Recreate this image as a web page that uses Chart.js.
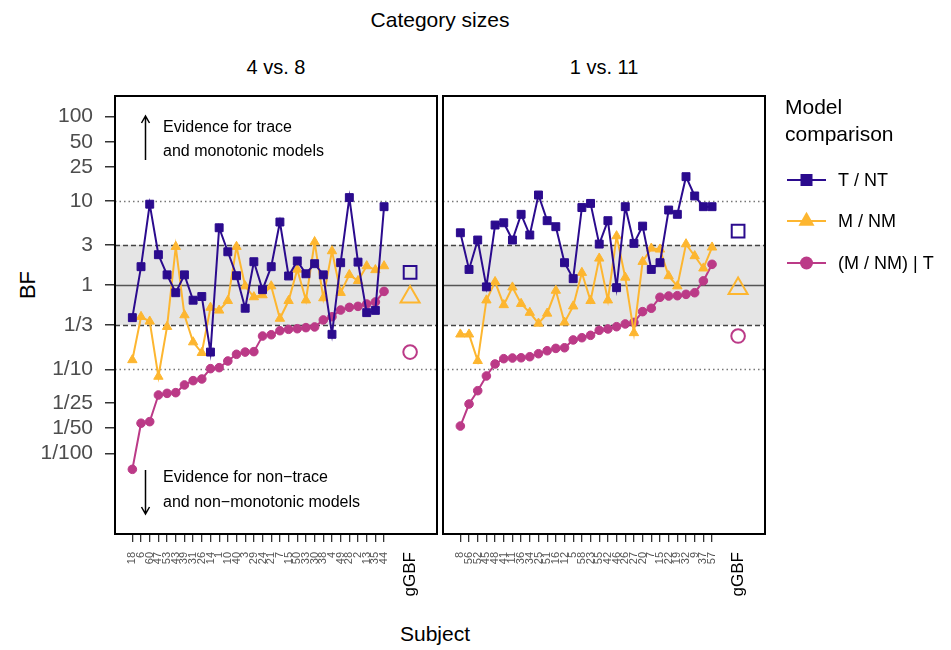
<!DOCTYPE html>
<html>
<head>
<meta charset="utf-8">
<script src="https://cdn.jsdelivr.net/npm/chart.js@4/dist/chart.umd.min.js"></script>
<style>
  body { margin: 0; background: #fff; width: 951px; height: 650px; position: relative; overflow: hidden;
         font-family: "Liberation Sans", Arial, Helvetica, sans-serif; }
  canvas { position: absolute; top: 0; }
  #cL { left: 0; }
  #cR { left: 430px; }
  .t { position: absolute; color: #000; white-space: nowrap; transform: translate(-50%, -50%); }
</style>
</head>
<body>
<div class="t" style="left:440px;top:20px;font-size:21px">Category sizes</div>
<div class="t" style="left:276px;top:67px;font-size:20px">4 vs. 8</div>
<div class="t" style="left:604px;top:67px;font-size:20px">1 vs. 11</div>
<div class="t" style="left:28px;top:285px;font-size:22px;transform:translate(-50%,-50%) rotate(-90deg)">BF</div>
<div class="t" style="left:435px;top:634px;font-size:21px">Subject</div>
<canvas id="cL" width="450" height="650"></canvas>
<canvas id="cR" width="521" height="650"></canvas>
<script>
// ---- data -------------------------------------------------------------
const seriesNames = ['T / NT', 'M / NM', '(M / NM) | T'];
const seriesColors = ['#2b0b8e', '#fdb630', '#bb3a87'];

// panel "4 vs. 8"
const leftSubjects = ['18','6','60','47','53','43','39','31','26','14','1','10','40','3','29',
                      '24','21','7','15','50','33','30','38','4','49','28','2','13','35','44'];
const leftTNT  = [0.41,1.65,9.1,2.29,1.32,0.81,1.32,0.66,0.73,0.16,4.78,2.48,1.29,0.53,1.89,
                  0.88,1.65,5.59,1.28,1.93,1.36,1.79,1.32,0.26,1.84,10.9,1.87,0.47,0.50,8.5];
const leftMNM  = [0.129,0.42,0.37,0.082,0.32,2.85,0.44,0.21,0.157,0.54,0.50,0.65,2.85,0.97,0.72,
                  0.76,0.97,0.40,0.65,1.53,0.66,3.24,0.70,2.53,0.81,1.32,1.12,1.68,1.51,1.68];
const leftCond = [0.0065,0.0229,0.0239,0.0495,0.0518,0.0528,0.0652,0.0733,0.0767,0.1017,0.1045,0.1254,0.1506,0.160,0.162,
                  0.248,0.257,0.287,0.298,0.303,0.312,0.318,0.385,0.42,0.505,0.543,0.558,0.595,0.629,0.84];
const leftGroup = [1.41, 0.72, 0.16];   // T/NT, M/NM, (M/NM)|T

// panel "1 vs. 11"
const rightSubjects = ['8','56','52','45','48','41','11','36','34','25','51','16','12','5','58',
                       '23','55','42','46','26','27','20','7','15','22','19','32','9','37','57'];
const rightTNT  = [4.17,1.53,3.42,0.95,5.15,5.48,3.42,6.9,3.92,11.7,5.8,4.92,1.84,1.19,8.3,
                   9.3,3.06,5.8,0.93,8.5,3.12,5.0,1.53,1.84,7.76,6.9,19.3,11.4,8.5,8.5];
const rightMNM  = [0.26,0.26,0.126,0.66,1.09,0.58,0.94,0.60,0.47,0.35,0.46,0.86,0.36,0.56,1.40,
                   0.65,2.07,0.66,3.81,1.23,0.27,1.89,2.72,2.65,1.28,0.97,3.06,2.21,1.58,2.8];
const rightCond = [0.0212,0.0387,0.0557,0.0833,0.1156,0.1336,0.136,0.137,0.141,0.153,0.166,0.177,0.180,0.223,0.237,
                   0.253,0.290,0.301,0.32,0.345,0.36,0.483,0.53,0.715,0.74,0.747,0.775,0.81,1.12,1.76];
const rightGroup = [4.37, 0.91, 0.248];

// axis ticks
const yTickValues = [100, 50, 25, 10, 3, 1, 1/3, 1/10, 1/25, 1/50, 1/100];
const yTickLabels = ['100','50','25','10','3','1','1/3','1/10','1/25','1/50','1/100'];
const groupLabel = 'gGBF';
const groupPos = 32;

// reference levels
const bandLow = 1/3, bandHigh = 3, neutral = 1;
const dottedLevels = [10, 1/10];

// ---- drawing -----------------------------------------------------------
const FONT = '"Liberation Sans", Arial, Helvetica, sans-serif';
Chart.defaults.font.family = FONT;
const Y_MIN = 0.00111, Y_MAX = 175;
const X_MIN = -2, X_MAX = 35.1;
const RIGHT_CANVAS_LEFT = 430;

const guides = {
  id: 'guides',
  beforeDatasetsDraw(chart) {
    const { ctx, chartArea: a, scales: { y } } = chart;
    ctx.save();
    const yHi = y.getPixelForValue(bandHigh), yLo = y.getPixelForValue(bandLow);
    ctx.fillStyle = '#e5e5e5';
    ctx.fillRect(a.left, yHi, a.right - a.left, yLo - yHi);
    const hline = (v, dash, color, w) => {
      const py = Math.round(y.getPixelForValue(v)) + 0.5;
      ctx.beginPath();
      ctx.setLineDash(dash);
      ctx.strokeStyle = color;
      ctx.lineWidth = w;
      ctx.moveTo(a.left, py);
      ctx.lineTo(a.right, py);
      ctx.stroke();
    };
    dottedLevels.forEach(v => hline(v, [1.5, 3], '#777', 1.5));
    hline(bandHigh, [5, 3], '#444', 1.5);
    hline(bandLow, [5, 3], '#444', 1.5);
    hline(neutral, [], '#555', 1.5);
    ctx.restore();
  },
  afterDraw(chart) {
    const { ctx, chartArea: a } = chart;
    ctx.save();
    ctx.strokeStyle = '#000';
    ctx.lineWidth = 2;
    ctx.strokeRect(a.left, a.top, a.right - a.left, a.bottom - a.top);
    ctx.restore();
  }
};

const evidenceNotes = {
  id: 'evidenceNotes',
  afterDatasetsDraw(chart) {
    const { ctx } = chart;
    ctx.save();
    ctx.strokeStyle = '#000';
    ctx.fillStyle = '#000';
    ctx.lineWidth = 1.5;
    const arrow = (x, y0, y1) => {
      const dir = y1 < y0 ? 1 : -1;
      ctx.beginPath();
      ctx.moveTo(x, y0); ctx.lineTo(x, y1);
      ctx.moveTo(x - 4, y1 + dir * 7); ctx.lineTo(x, y1); ctx.lineTo(x + 4, y1 + dir * 7);
      ctx.stroke();
    };
    arrow(145.5, 160, 116);
    arrow(145.5, 470, 514);
    ctx.font = '16px ' + FONT;
    ctx.textBaseline = 'middle';
    ctx.textAlign = 'left';
    ctx.fillText('Evidence for trace', 163, 128);
    ctx.fillText('and monotonic models', 163, 152);
    ctx.fillText('Evidence for non\u2212trace', 163, 478);
    ctx.fillText('and non\u2212monotonic models', 163, 503);
    ctx.restore();
  }
};

function drawMarker(ctx, style, x, y, r, color, filled) {
  ctx.beginPath();
  if (style === 'rect') {
    ctx.rect(x - r, y - r, 2 * r, 2 * r);
  } else if (style === 'triangle') {
    ctx.moveTo(x, y - r * 1.15);
    ctx.lineTo(x + r, y + r * 0.6);
    ctx.lineTo(x - r, y + r * 0.6);
    ctx.closePath();
  } else {
    ctx.arc(x, y, r, 0, Math.PI * 2);
  }
  if (filled) { ctx.fillStyle = color; ctx.fill(); }
  else { ctx.strokeStyle = color; ctx.lineWidth = 2; ctx.stroke(); }
}

const legendBlock = {
  id: 'legendBlock',
  afterDraw(chart) {
    const { ctx } = chart;
    const ox = -RIGHT_CANVAS_LEFT;
    ctx.save();
    ctx.fillStyle = '#000';
    ctx.font = '21px ' + FONT;
    ctx.textBaseline = 'middle';
    ctx.textAlign = 'left';
    ctx.fillText('Model', 785 + ox, 108);
    ctx.fillText('comparison', 785 + ox, 135);
    const rows = [180, 221, 263];
    const styles = ['rect', 'triangle', 'circle'];
    const sizes = [6, 8, 6.5];
    rows.forEach((yy, i) => {
      ctx.strokeStyle = seriesColors[i];
      ctx.lineWidth = 2;
      ctx.beginPath();
      ctx.moveTo(787 + ox, yy); ctx.lineTo(826 + ox, yy);
      ctx.stroke();
      drawMarker(ctx, styles[i], 806.5 + ox, yy, sizes[i], seriesColors[i], true);
      ctx.fillStyle = '#000';
      ctx.font = '18px ' + FONT;
      ctx.fillText(seriesNames[i], 838 + ox, yy + 1);
    });
    ctx.restore();
  }
};

function panel(canvasId, subjects, tnt, mnm, cond, group, withY, padding, extraPlugins) {
  const pts = arr => arr.map((v, i) => ({ x: i, y: v }));
  const xTicks = subjects.map((s, i) => i).concat([groupPos]);
  const line = (label, data, color, style, r) => ({
    label, data: pts(data), borderColor: color, backgroundColor: color,
    borderWidth: 2, pointStyle: style, pointRadius: r, pointBorderWidth: 1,
    pointBackgroundColor: color, pointBorderColor: color, tension: 0
  });
  const open = (label, v, color, style, r) => ({
    label, data: [{ x: groupPos, y: v }], showLine: false, borderColor: color,
    backgroundColor: 'rgba(0,0,0,0)', pointStyle: style, pointRadius: r, pointBorderWidth: 2,
    pointBackgroundColor: 'rgba(0,0,0,0)', pointBorderColor: color
  });
  return new Chart(document.getElementById(canvasId), {
    type: 'line',
    data: {
      datasets: [
        line(seriesNames[0], tnt, seriesColors[0], 'rect', 5.6),
        line(seriesNames[1], mnm, seriesColors[1], 'triangle', 5.4),
        line(seriesNames[2], cond, seriesColors[2], 'circle', 4.3),
        open(seriesNames[0] + ' ' + groupLabel, group[0], seriesColors[0], 'rect', 9),
        open(seriesNames[1] + ' ' + groupLabel, group[1], seriesColors[1], 'triangle', 11),
        open(seriesNames[2] + ' ' + groupLabel, group[2], seriesColors[2], 'circle', 6.8)
      ]
    },
    options: {
      responsive: false,
      animation: false,
      events: [],
      layout: { padding },
      plugins: { legend: { display: false }, tooltip: { enabled: false }, title: { display: false } },
      scales: {
        x: {
          type: 'linear', min: X_MIN, max: X_MAX, bounds: 'data',
          afterBuildTicks: s => { s.ticks = xTicks.map(v => ({ value: v })); },
          ticks: {
            autoSkip: false, maxRotation: 90, minRotation: 90, padding: 10,
            callback: (v, i) => (i < subjects.length ? subjects[i] : groupLabel),
            font: c => (c.index >= subjects.length ? { size: 17, family: FONT } : { size: 11, family: FONT }),
            color: c => (c.index >= subjects.length ? '#000' : '#555')
          },
          grid: {
            drawOnChartArea: false, drawTicks: true, tickLength: 8, lineWidth: 1.3,
            color: c => (c.index >= subjects.length ? 'rgba(0,0,0,0)' : '#333')
          },
          border: { display: false },
          afterFit: s => { s.height = 116; s.paddingLeft = 0; s.paddingRight = 0; }
        },
        y: {
          type: 'logarithmic', min: Y_MIN, max: Y_MAX, bounds: 'data', display: withY,
          afterBuildTicks: s => { s.ticks = yTickValues.map(v => ({ value: v })); },
          ticks: {
            autoSkip: false, padding: 12, color: '#4d4d4d', font: { size: 21, family: FONT },
            callback: (v, i) => yTickLabels[i]
          },
          grid: { drawOnChartArea: false, drawTicks: true, tickLength: 10, lineWidth: 1.5, color: '#333' },
          border: { display: false },
          afterFit: s => { s.width = withY ? 115 : 0; s.paddingTop = 0; s.paddingBottom = 0; }
        }
      }
    },
    plugins: [guides].concat(extraPlugins)
  });
}

panel('cL', leftSubjects, leftTNT, leftMNM, leftCond, leftGroup, true,
      { top: 96, right: 3, left: 0, bottom: 0 }, [evidenceNotes]);
panel('cR', rightSubjects, rightTNT, rightMNM, rightCond, rightGroup, false,
      { top: 96, right: 186, left: 3, bottom: 0 }, [legendBlock]);
</script>
</body>
</html>
